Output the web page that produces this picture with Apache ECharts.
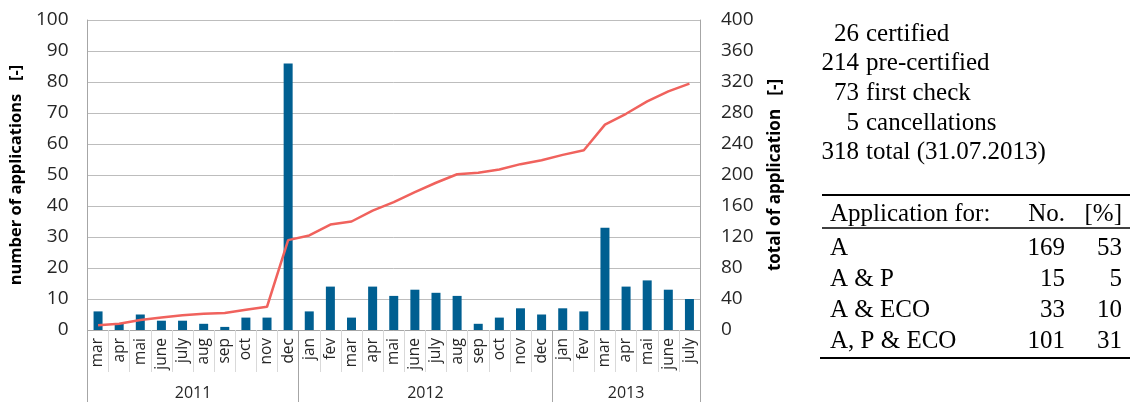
<!DOCTYPE html>
<html>
<head>
<meta charset="utf-8">
<script src="https://cdn.jsdelivr.net/npm/echarts@6/dist/echarts.min.js"></script>
<style>
 html,body{margin:0;padding:0;background:#fff;}
 #chart{width:1130px;height:402px;}
</style>
</head>
<body>
<div id="chart"></div>
<script>
// months per year
var years = ['2011', '2012', '2013'];
var months2011 = ['mar','apr','mai','june','july','aug','sep','oct','nov','dec'];
var months2012 = ['jan','fev','mar','apr','mai','june','july','aug','sep','oct','nov','dec'];
var months2013 = ['jan','fev','mar','apr','mai','june','july'];
var months = months2011.concat(months2012, months2013);

// applications per month
var applications = [6, 2, 5, 3, 3, 2, 1, 4, 4, 86,
  6, 14, 4, 14, 11, 13, 12, 11, 2, 4, 7, 5,
  7, 6, 33, 14, 16, 13, 10];
// total of applications
var totals = [6, 8, 13, 16, 19, 21, 22, 26, 30, 116,
  122, 136, 140, 154, 165, 178, 190, 201, 203, 207, 214, 219,
  226, 232, 265, 279, 295, 308, 318];

var statusCounts = ['26', '214', '73', '5', '318'];
var statusNames = ['certified', 'pre-certified', 'first check', 'cancellations', 'total (31.07.2013)'];

var tableHead = ['Application for:', 'No.', '[%]'];
var tableLabels = ['A', 'A & P', 'A & ECO', 'A, P & ECO'];
var tableNo = [169, 15, 33, 101];
var tablePct = [53, 5, 10, 31];

// year groups on a 0..n scale
var yearCounts = [months2011.length, months2012.length, months2013.length];
var yearEdges = [0], yearMids = [];
yearCounts.forEach(function (c, i) {
  yearMids.push(yearEdges[i] + c / 2);
  yearEdges.push(yearEdges[i] + c);
});

var axisFont = 'Open Sans';
var txtColor = '#262626';
var serifFont = '25px "Liberation Serif"';

var graphics = [];
function cell(txt, x, y, align) {
  graphics.push({type:'text', x:x, y:y, style:{text:String(txt), font:serifFont, fill:'#000', textAlign:align, textVerticalAlign:'middle'}});
}
statusCounts.forEach(function (n, i) {
  var y = 34 + i * 29.7;
  cell(n, 859, y, 'right');
  cell(statusNames[i], 866, y, 'left');
});
cell(tableHead[0], 830, 214, 'left');
cell(tableHead[1], 1065, 214, 'right');
cell(tableHead[2], 1122, 214, 'right');
tableLabels.forEach(function (l, i) {
  var y = 248 + i * 31.3;
  cell(l, 830, y, 'left');
  cell(tableNo[i], 1065, y, 'right');
  cell(tablePct[i], 1122, y, 'right');
});
graphics.push({type:'line', shape:{x1:822, y1:195, x2:1130, y2:195}, style:{stroke:'#000', lineWidth:2}});
graphics.push({type:'line', shape:{x1:822, y1:228, x2:1130, y2:228}, style:{stroke:'#000', lineWidth:1.5}});
graphics.push({type:'line', shape:{x1:820, y1:358, x2:1130, y2:358}, style:{stroke:'#000', lineWidth:2}});

var myChart = echarts.init(document.getElementById('chart'));
var option = {
  animation: false,
  grid: {left: 86, right: 430, top: 20, bottom: 72},
  xAxis: [{
    type: 'category',
    data: months,
    boundaryGap: true,
    axisLine: {lineStyle: {color: '#a6a6a6'}},
    axisTick: {show: true, interval: 0, length: 42, lineStyle: {color: '#d9d9d9'}},
    axisLabel: {interval: 0, rotate: 90, margin: 8, fontFamily: axisFont, fontSize: 15.5, color: txtColor}
  }, {
    type: 'value',
    min: 0,
    max: months.length,
    position: 'bottom',
    splitLine: {show: false},
    axisLine: {show: false},
    axisTick: {show: true, customValues: yearEdges, length: 72, lineStyle: {color: '#a6a6a6'}},
    axisLabel: {
      customValues: yearMids, margin: 55, fontFamily: axisFont, fontSize: 16, color: txtColor,
      formatter: function (v) { return years[yearMids.indexOf(v)] || ''; }
    }
  }],
  yAxis: [{
    type: 'value',
    min: 0, max: 100, interval: 10,
    name: 'number of applications   [-]',
    nameLocation: 'middle',
    nameRotate: 90,
    nameGap: 57,
    nameTextStyle: {fontFamily: axisFont, fontSize: 16.5, fontWeight: 'bold', color: '#000'},
    axisLine: {show: true, lineStyle: {color: '#a6a6a6'}},
    axisTick: {show: false},
    splitLine: {lineStyle: {color: '#bdbdbd'}},
    axisLabel: {margin: 19, fontFamily: axisFont, fontSize: 19, color: txtColor}
  }, {
    type: 'value',
    min: 0, max: 400, interval: 40,
    position: 'right',
    name: 'total of application   [-]',
    nameLocation: 'middle',
    nameRotate: 90,
    nameGap: 67,
    nameTextStyle: {fontFamily: axisFont, fontSize: 17, fontWeight: 'bold', color: '#000'},
    axisLine: {show: true, lineStyle: {color: '#a6a6a6'}},
    axisTick: {show: false},
    splitLine: {show: false},
    axisLabel: {margin: 21, fontFamily: axisFont, fontSize: 19, color: txtColor}
  }],
  series: [{
    name: 'number of applications',
    type: 'bar',
    xAxisIndex: 0,
    yAxisIndex: 0,
    barWidth: 9,
    itemStyle: {color: '#005F91'},
    data: applications
  }, {
    name: 'total of application',
    type: 'line',
    xAxisIndex: 0,
    yAxisIndex: 1,
    symbol: 'none',
    lineStyle: {color: '#F0625D', width: 2.5},
    data: totals
  }],
  graphic: graphics
};
myChart.setOption(option);
</script>
</body>
</html>
